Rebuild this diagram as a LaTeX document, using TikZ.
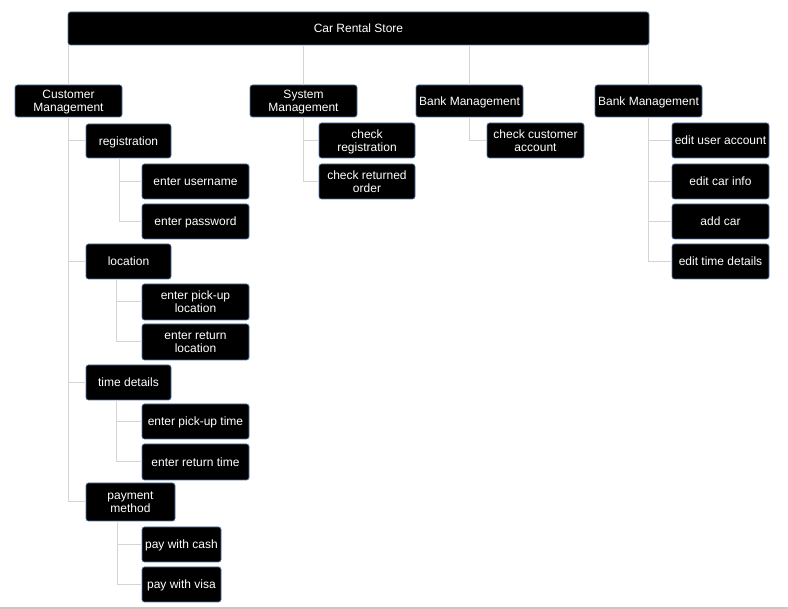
\documentclass[tikz,border=0pt]{standalone}
\usepackage{fontspec}
\setmainfont{Liberation Sans}
\definecolor{boxedge}{RGB}{80,120,170}
\definecolor{conn}{RGB}{212,212,212}
\begin{document}
\begin{tikzpicture}[x=1pt,y=-1pt,
  bx/.style={draw=boxedge,line width=0.7pt,fill=black,rounded corners=2.5pt,
    text=white,font=\fontsize{12}{13}\selectfont,align=center,inner sep=0pt,text depth=0pt},
  cn/.style={draw=conn,line width=1pt}]
\useasboundingbox (0,0) rectangle (788,609);
\newcommand{\bx}[6]{\node[bx,minimum width={#4-#2},minimum height={#5-#3}] (#1) at ({(#2+#4)/2},{(#3+#5)/2}) {#6};}
% boxes
\bx{root}{68}{12}{649}{45}{Car Rental Store}
\bx{cm}{15}{85}{122}{117}{Customer\\Management}
\bx{sm}{250}{85}{357}{117}{System\\Management}
\bx{bmA}{416}{85}{523}{117}{Bank Management}
\bx{bmB}{595}{85}{702}{117}{Bank Management}
% customer
\bx{reg}{86}{124}{171}{158}{registration}
\bx{eu}{142}{164}{249}{199}{enter username}
\bx{ep}{142}{204}{249}{239}{enter password}
\bx{loc}{86}{244}{171}{279}{location}
\bx{epl}{142}{284}{249}{320}{enter pick-up\\location}
\bx{erl}{142}{324}{249}{360}{enter return\\location}
\bx{td}{86}{365}{171}{400}{time details}
\bx{ept}{142}{404}{249}{439}{enter pick-up time}
\bx{ert}{142}{444}{249}{480}{enter return time}
\bx{pm}{86}{483}{175}{521}{payment\\method}
\bx{pc}{142}{527}{221}{562}{pay with cash}
\bx{pv}{142}{567}{221}{602}{pay with visa}
% system
\bx{cr}{319}{123}{415}{158}{check\\registration}
\bx{cro}{319}{164}{415}{199}{check returned\\order}
% bank A
\bx{cca}{487}{123}{584}{158}{check customer\\account}
% bank B
\bx{eua}{672}{123}{769}{158}{edit user account}
\bx{eci}{672}{164}{769}{199}{edit car info}
\bx{ac}{672}{204}{769}{239}{add car}
\bx{etd}{672}{244}{769}{279}{edit time details}
% connectors
\foreach \c in {cm,sm,bmA,bmB}{\draw[cn] (\c.north |- root.south) -- (\c.north);}
\foreach \c in {reg,loc,td,pm}{\draw[cn] (cm.south) |- (\c.west);}
\draw[cn] ([xshift=34pt]reg.south west) |- (eu.west);
\draw[cn] ([xshift=34pt]reg.south west) |- (ep.west);
\draw[cn] ([xshift=31pt]loc.south west) |- (epl.west);
\draw[cn] ([xshift=31pt]loc.south west) |- (erl.west);
\draw[cn] ([xshift=31pt]td.south west) |- (ept.west);
\draw[cn] ([xshift=31pt]td.south west) |- (ert.west);
\draw[cn] ([xshift=32pt]pm.south west) |- (pc.west);
\draw[cn] ([xshift=32pt]pm.south west) |- (pv.west);
\foreach \c in {cr,cro}{\draw[cn] (sm.south) |- (\c.west);}
\draw[cn] (bmA.south) |- (cca.west);
\foreach \c in {eua,eci,ac,etd}{\draw[cn] (bmB.south) |- (\c.west);}
% bottom rule
\coordinate (bl) at (0,607.8);
\coordinate (br) at (788,607.8);
\draw[draw={rgb,255:red,200;green,200;blue,200},line width=1.5pt] (bl) -- (br);
\end{tikzpicture}
\end{document}
